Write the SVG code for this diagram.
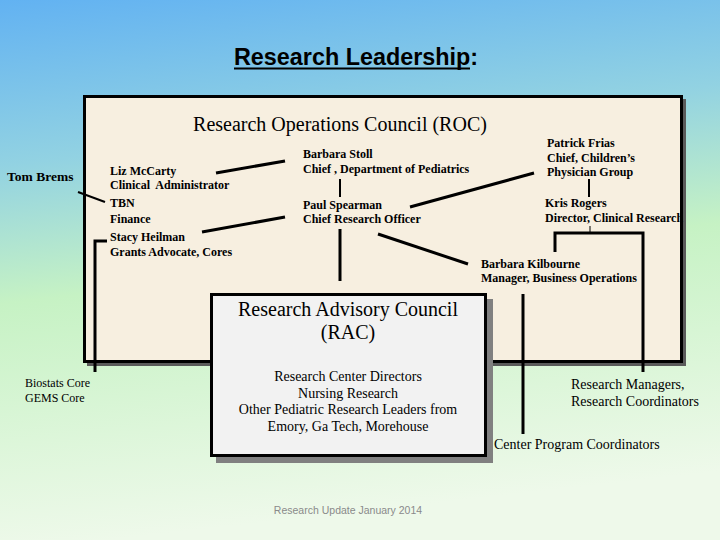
<svg xmlns="http://www.w3.org/2000/svg" width="720" height="540" viewBox="0 0 720 540">
<defs>
<linearGradient id="bg" x1="0" y1="0" x2="0.15" y2="1">
<stop offset="0" stop-color="#62b2f2"/>
<stop offset="0.3" stop-color="#92d2e2"/>
<stop offset="0.55" stop-color="#c6f2c4"/>
<stop offset="1" stop-color="#eef9ea"/>
</linearGradient>
<style>
.b{font-family:"Liberation Serif","Times New Roman",serif;font-weight:bold;font-size:12px;fill:#000}
.r{font-family:"Liberation Serif","Times New Roman",serif;font-size:14px;fill:#000}
.big{font-family:"Liberation Serif","Times New Roman",serif;font-size:20px;fill:#000}
.ln{stroke:#000;stroke-width:3;fill:none}
.tn{stroke:#000;stroke-width:2;fill:none}
</style>
</defs>
<rect x="0" y="0" width="720" height="540" fill="url(#bg)"/>
<g id="title">
<text x="234" y="65" font-family="Liberation Sans, Arial, sans-serif" font-weight="bold" font-size="23" textLength="244" lengthAdjust="spacingAndGlyphs">Research Leadership:</text>
<rect x="234" y="67.5" width="236" height="2" fill="#000"/>
</g>
<g id="roc">
<rect x="87" y="99" width="599" height="267" fill="#5a5a5a"/>
<rect x="84.5" y="96.5" width="597" height="265" fill="#f7efe0" stroke="#000" stroke-width="3"/>
<text class="big" x="340" y="131" text-anchor="middle">Research Operations Council (ROC)</text>
</g>
<g id="rac">
<rect x="216" y="299" width="277" height="164" fill="#808080"/>
<rect x="211.5" y="294.5" width="274" height="161" fill="#f2f2f2" stroke="#000" stroke-width="3"/>
<text class="big" x="348" y="316" text-anchor="middle">Research Advisory Council</text>
<text class="big" x="348" y="339" text-anchor="middle">(RAC)</text>
<text class="r" x="348" y="381" text-anchor="middle">Research Center Directors</text>
<text class="r" x="348" y="398" text-anchor="middle">Nursing Research</text>
<text class="r" x="348" y="414" text-anchor="middle">Other Pediatric Research Leaders from</text>
<text class="r" x="348" y="431" text-anchor="middle">Emory, Ga Tech, Morehouse</text>
</g>
<g id="connectors">
<line class="tn" x1="78" y1="192" x2="105" y2="202"/>
<line class="ln" x1="216" y1="173" x2="285" y2="161"/>
<line class="ln" x1="202" y1="232" x2="285" y2="217"/>
<polyline class="ln" points="107,241 95,241 95,372"/>
<line class="tn" x1="340" y1="179" x2="340" y2="197"/>
<line class="ln" x1="340" y1="229" x2="340" y2="281"/>
<line class="ln" x1="410" y1="207" x2="534" y2="173"/>
<line class="ln" x1="378" y1="234" x2="468" y2="264"/>
<line class="tn" x1="589" y1="179" x2="589" y2="197"/>
<line stroke="#000" stroke-width="1" x1="590" y1="226" x2="590" y2="233"/>
<polyline class="ln" points="555,252 555,233 643,233 643,372"/>
<line class="ln" x1="523" y1="294" x2="523" y2="434"/>
</g>
<g id="tom"><text class="b" x="7" y="181" style="font-size:13.5px">Tom Brems</text></g>
<g id="liz"><text class="b" x="110" y="175">Liz McCarty</text><text class="b" x="110" y="189" xml:space="preserve">Clinical  Administrator</text></g>
<g id="tbn"><text class="b" x="110" y="207">TBN</text><text class="b" x="110" y="223">Finance</text></g>
<g id="stacy"><text class="b" x="110" y="241">Stacy Heilman</text><text class="b" x="110" y="256">Grants Advocate, Cores</text></g>
<g id="stoll"><text class="b" x="303" y="158">Barbara Stoll</text><text class="b" x="303" y="173">Chief , Department of Pediatrics</text></g>
<g id="spearman"><text class="b" x="303" y="209">Paul Spearman</text><text class="b" x="303" y="223">Chief Research Officer</text></g>
<g id="frias"><text class="b" x="547" y="147">Patrick Frias</text><text class="b" x="547" y="162">Chief, Children’s</text><text class="b" x="547" y="176">Physician Group</text></g>
<g id="rogers"><text class="b" x="545" y="207">Kris Rogers</text><text class="b" x="545" y="222">Director, Clinical Research</text></g>
<g id="kilbourne"><text class="b" x="481" y="268">Barbara Kilbourne</text><text class="b" x="481" y="282">Manager, Business Operations</text></g>
<g id="cores"><text class="r" x="25" y="387" style="font-size:12px">Biostats Core</text><text class="r" x="25" y="402" style="font-size:12px">GEMS Core</text></g>
<g id="managers"><text class="r" x="571" y="389">Research Managers,</text><text class="r" x="571" y="406">Research Coordinators</text></g>
<g id="cpc"><text class="r" x="494" y="449">Center Program Coordinators</text></g>
<text x="348" y="514" text-anchor="middle" font-family="Liberation Sans, Arial, sans-serif" font-size="10.5" fill="#8a8a8a">Research Update January 2014</text>
</svg>
